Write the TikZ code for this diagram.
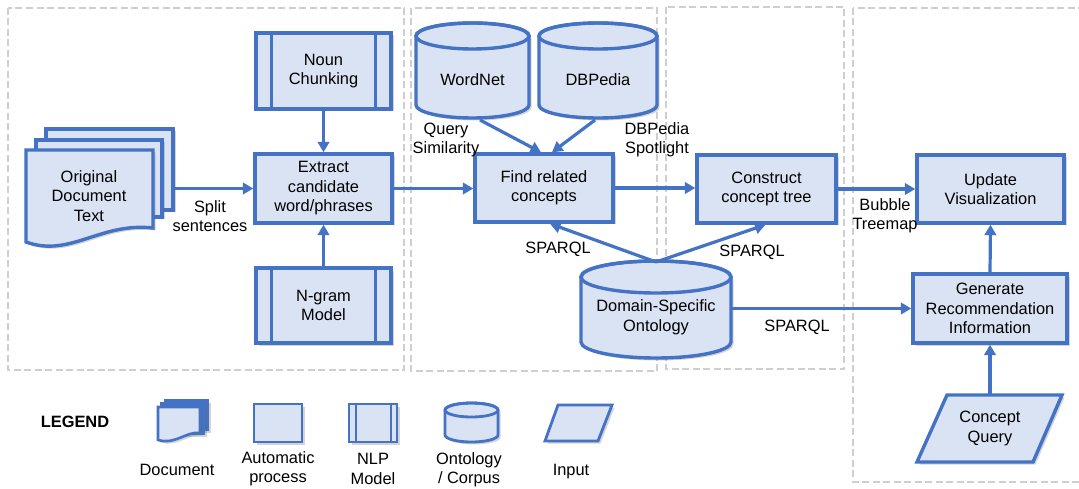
\documentclass[tikz,border=0pt]{standalone}
\usepackage{fontspec}
\setmainfont{Liberation Sans}
\usetikzlibrary{arrows.meta,shadows}
\definecolor{bord}{HTML}{4472C4}
\definecolor{fillb}{HTML}{DAE3F3}
\definecolor{dashc}{HTML}{CFCFCF}
\newcommand\mytxt{\fontsize{16.4}{19.5}\selectfont}
\newcommand\cylpath[6]{%
  \path[shp,line width=#6] (#1-#4,#2+#5) -- (#1-#4,#3-#5)
    arc[start angle=180,end angle=0,x radius=#4,y radius=#5]
    -- (#1+#4,#2+#5)
    arc[start angle=0,end angle=-180,x radius=#4,y radius=#5] -- cycle;
  \draw[bord,line width=#6] (#1,#2+#5) ellipse[x radius=#4,y radius=#5];}
\begin{document}
\begin{tikzpicture}[x=1pt,y=-1pt,
  shad/.style={drop shadow={shadow xshift=2.5pt,shadow yshift=-2.5pt,opacity=0.28,fill=black!60}},
  box/.style={draw=bord,fill=fillb,line width=3.4pt,shad,align=center,font=\mytxt,inner sep=0pt},
  shp/.style={draw=bord,fill=fillb,line width=3.4pt,shad},
  txt/.style={align=center,font=\mytxt,inner sep=0pt},
  arr/.style={draw=bord,line width=3.2pt,-{Triangle[length=10.5pt,width=11.5pt]}},
  dbox/.style={draw=dashc,line width=1.8pt,dash pattern=on 7pt off 3.5pt},
]
\useasboundingbox (0,0) rectangle (1079,489);

% group frames
\draw[dbox] (8,8) rectangle (404,370);
\draw[dbox] (411,8) rectangle (657,371);
\draw[dbox] (666,7) rectangle (844,369);
\draw[dbox] (853,8) rectangle (1083,482);

% document
\path[shp] (46,129) rectangle (173,210);
\path[shp] (36,140) rectangle (162,217);
\path[shp] (26,150) -- (153,150) -- (153,228) .. controls (100,222) and (70,258) .. (26,242) -- cycle;
\node[txt] (doc) at (89,196) {Original\\Document\\Text};
\coordinate (docr) at (173,188.5);

% NLP models and process
\node[box,minimum width=135pt,minimum height=76pt] (noun) at (323.5,71) {Noun\\Chunking};
\draw[bord,line width=3.4pt] ([xshift=17pt]noun.north west) -- ([xshift=17pt]noun.south west);
\draw[bord,line width=3.4pt] ([xshift=-17pt]noun.north east) -- ([xshift=-17pt]noun.south east);
\node[box,minimum width=137pt,minimum height=69pt] (extract) at (323.5,188.5) {Extract\\candidate\\word/phrases};
\node[box,minimum width=135pt,minimum height=75pt] (ngram) at (323.5,305.5) {N-gram\\Model};
\draw[bord,line width=3.4pt] ([xshift=17pt]ngram.north west) -- ([xshift=17pt]ngram.south west);
\draw[bord,line width=3.4pt] ([xshift=-17pt]ngram.north east) -- ([xshift=-17pt]ngram.south east);

% corpora
\cylpath{472.5}{23}{118}{56.5}{13}{3.4pt}
\node[txt] (wordnet) at (472.5,80) {WordNet};
\cylpath{598}{23}{118}{59}{13}{3.4pt}
\node[txt] (dbpedia) at (598,80) {DBPedia};
\coordinate (wnb) at (480,120);
\coordinate (dbb) at (595,120);

\node[box,minimum width=138pt,minimum height=68pt] (find) at (544,188) {Find related\\concepts};
\node[box,minimum width=139pt,minimum height=68pt] (construct) at (766.5,189) {Construct\\concept tree};
\node[box,minimum width=147pt,minimum height=68pt] (update) at (990.5,189) {Update\\Visualization};
\node[box,minimum width=154pt,minimum height=69pt] (generate) at (990,308.5) {Generate\\Recommendation\\Information};

\cylpath{656}{261}{358}{75}{16}{3.4pt}
\node[txt] (domain) at (656,317.5) {Domain-Specific\\Ontology};
\coordinate (domt) at (656,262);
\coordinate (domr) at (731,308.5);

% input
\path[shp] (947,395) -- (1062,395) -- (1033,462) -- (917,462) -- cycle;
\node[txt,minimum height=67pt] (cq) at (990,428.5) {Concept\\Query};

% connectors
\draw[arr] (docr) -- (extract.west);
\draw[arr] (noun.south) -- (extract.north);
\draw[arr] (ngram.north) -- (extract.south);
\draw[arr] (extract.east) -- (extract.east -| find.west);
\draw[arr] (wnb) -- ([xshift=-3pt]find.north);
\draw[arr] (dbb) -- ([xshift=8pt]find.north);
\draw[arr] (find.east) -- (find.east -| construct.west);
\draw[arr] (domt) -- ([xshift=6pt]find.south);
\draw[arr] (domt) -- ([xshift=-1pt]construct.south);
\draw[arr] (construct.east) -- (construct.east -| update.west);
\draw[arr] (domr) -- (generate.west);
\draw[arr] (generate.north) -- (update.south);
\draw[arr] (cq.north) -- (generate.south);

% connector labels
\node[txt] (lsplit) at (210,216) {Split\\sentences};
\node[txt] (lqs) at (446,140) {Query\\Similarity};
\node[txt] (ldbs) at (657,140) {DBPedia\\Spotlight};
\node[txt] (lsp1) at (558,249) {SPARQL};
\node[txt] (lsp2) at (752,252) {SPARQL};
\node[txt] (lsp3) at (797,327) {SPARQL};
\node[txt] (lbt) at (885,216) {Bubble\\Treemap};

% legend
\node[txt,font=\bfseries\mytxt] (legend) at (75,422) {LEGEND};
\path[shp,fill=bord,line width=2.6pt] (165,400) rectangle (208,430);
\path[shp,fill=bord,line width=2.6pt] (161.5,403.5) rectangle (204,434);
\path[shp,line width=2.6pt] (158,407) -- (200,407) -- (200,433) .. controls (186,431) and (176,445) .. (158,440) -- cycle;
\node[txt] (ldoc) at (177,470) {Document};
\path[shp,line width=2.8pt] (254,404) rectangle (302,442);
\node[txt] (lauto) at (278,469) {Automatic\\process};
\path[shp,line width=2.8pt] (349,404) rectangle (397,442);
\draw[bord,line width=2pt] (356,404) -- (356,442);
\draw[bord,line width=2pt] (391,404) -- (391,442);
\node[txt] (lnlp) at (373,469) {NLP\\Model};
\cylpath{471.5}{403}{442}{26.5}{7}{2.8pt}
\node[txt] (lont) at (469,470) {Ontology\\/ Corpus};
\path[shp,line width=2.8pt] (558,405) -- (612,405) -- (598,441) -- (545,441) -- cycle;
\node[txt] (linp) at (571,472) {Input};
\end{tikzpicture}
\end{document}
